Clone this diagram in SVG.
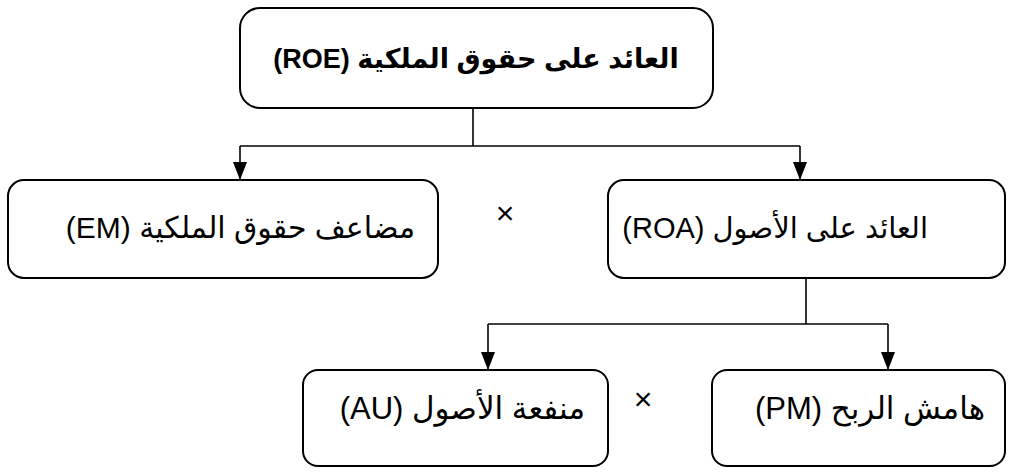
<svg xmlns="http://www.w3.org/2000/svg" width="1014" height="473" viewBox="0 0 1014 473">
<style>
.box{fill:#fff;stroke:#000;stroke-width:2}
.lbl{font-family:"Liberation Sans","DejaVu Sans",sans-serif;font-size:30px;fill:#000}
.b{font-weight:bold;font-size:27px}
.op{font-family:"Liberation Sans","DejaVu Sans",sans-serif;font-size:32px;fill:#000}
.ln{fill:none;stroke:#000;stroke-width:1.6}
</style>
<defs>
<marker id="ah" markerUnits="userSpaceOnUse" markerWidth="18" markerHeight="14" viewBox="0 0 18 14" refX="18" refY="7" orient="auto">
<path d="M0,0 L18,7 L0,14 Z" fill="#000"/>
</marker>
</defs>
<rect width="1014" height="473" fill="#fff"/>
<g id="connectors">
<path class="ln" d="M473,108 V146"/>
<path class="ln" d="M240,146 H800"/>
<path class="ln" d="M240,146 V180" marker-end="url(#ah)"/>
<path class="ln" d="M800,146 V180" marker-end="url(#ah)"/>
<path class="ln" d="M806,278 V324"/>
<path class="ln" d="M488,324 H888"/>
<path class="ln" d="M488,324 V370" marker-end="url(#ah)"/>
<path class="ln" d="M888,324 V370" marker-end="url(#ah)"/>
</g>
<g id="roe">
<rect class="box" x="240" y="8" width="473" height="100" rx="20"/>
<text class="lbl b" x="476" y="68" text-anchor="middle" direction="rtl">العائد على حقوق الملكية (ROE)</text>
</g>
<g id="em">
<rect class="box" x="8" y="180" width="430" height="98" rx="16"/>
<text class="lbl" x="415" y="238" direction="rtl" text-anchor="start">مضاعف حقوق الملكية (EM)</text>
</g>
<g id="roa">
<rect class="box" x="608" y="180" width="397" height="98" rx="16"/>
<text class="lbl" x="928" y="238" direction="rtl" text-anchor="start" style="font-size:29px">العائد على الأصول (ROA)</text>
</g>
<g id="au">
<rect class="box" x="303" y="370" width="305" height="96" rx="15"/>
<text class="lbl" x="585" y="419" direction="rtl" text-anchor="start" style="font-size:31px">منفعة الأصول (AU)</text>
</g>
<g id="pm">
<rect class="box" x="712" y="370" width="293" height="96" rx="15"/>
<text class="lbl" x="985" y="419" direction="rtl" text-anchor="start" style="font-size:31px">هامش الربح (PM)</text>
</g>
<g id="ops">
<text class="op" x="505" y="224" text-anchor="middle">×</text>
<text class="op" x="643" y="410" text-anchor="middle">×</text>
</g>
</svg>
